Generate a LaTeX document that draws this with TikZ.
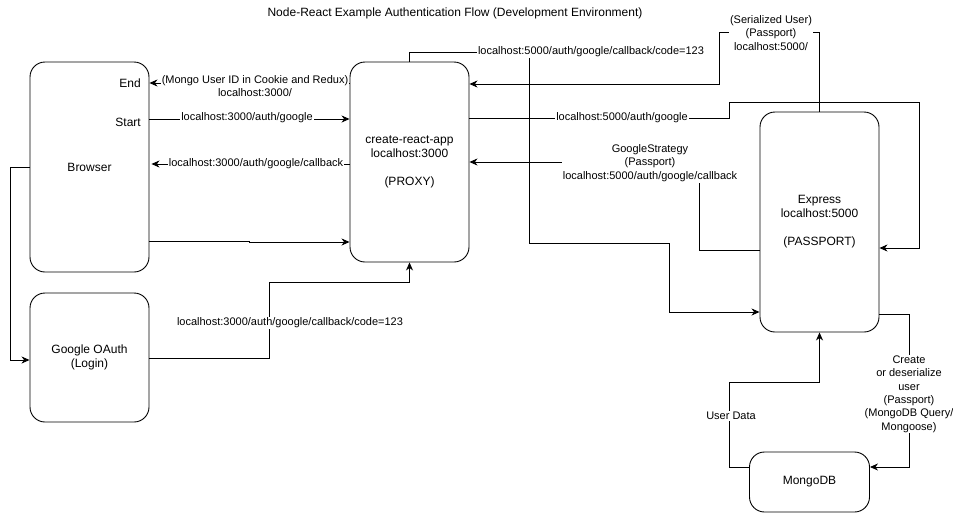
\documentclass[tikz,border=0pt]{standalone}
\usepackage{fontspec}
\setmainfont{Liberation Sans}
\usetikzlibrary{arrows.meta}
\begin{document}
\begin{tikzpicture}[x=1pt,y=-1pt,
  box/.style={draw, rounded corners=15pt, line width=0.9pt, align=center, font=\fontsize{12}{14}\selectfont, inner sep=0pt},
  conn/.style={draw, line width=0.9pt, -{Stealth[length=8pt,width=7pt,inset=2.5pt]}},
  lbl/.style={fill=white, align=center, font=\fontsize{11}{13.4}\selectfont, inner sep=1pt},
  plain/.style={align=center, font=\fontsize{12}{14}\selectfont, inner sep=1pt},
]
\useasboundingbox (0,0) rectangle (953,515);
\node[plain] (title) at (455,13) {Node-React Example Authentication Flow (Development Environment)};
% nodes
\node[box, minimum width=119pt, minimum height=210pt] (browser) at (89.5,167) {Browser};
\node[plain, anchor=east] (endt) at (142,83) {End};
\node[plain, anchor=east] (startt) at (142,122) {Start};
\node[box, minimum width=119pt, minimum height=200pt] (cra) at (409.5,162) {create-react-app\\localhost:3000\\~\\(PROXY)};
\node[box, minimum width=119pt, minimum height=129pt] (goauth) at (89.5,357.5) {Google OAuth\\(Login)};
\node[box, minimum width=119pt, minimum height=220pt] (express) at (819.5,222) {Express\\localhost:5000\\~\\(PASSPORT)};
\node[box, minimum width=120pt, minimum height=60pt] (mongo) at (809.5,482) {MongoDB};
% connectors
\draw[conn] (cra.west |- 0,83) -- (browser.east |- 0,83);
\draw[conn] (browser.east |- 0,119) -- (cra.west |- 0,119);
\draw[conn] (cra.west |- 0,164) -- ([xshift=2pt]browser.east |- 0,164);
\draw[conn] (browser.east |- 0,241) -- (249,241) -- (249,242) -- (cra.west |- 0,242);
\draw[conn] (browser.west) -- (10,167) |- (goauth.west |- 0,360);
\draw[conn] (goauth.east |- 0,358) -| (269,282) -| (cra.south);
\draw[conn] (cra.north) |- (529,52) |- (669,243) |- (express.west |- 0,312);
\draw[conn] (express.north) |- (719,32) |- (cra.east |- 0,84);
\draw[conn] (cra.east |- 0,118) -- (729,118) |- (919,102) |- (express.east |- 0,248);
\draw[conn] (express.west |- 0,250) -| (699,162) -- (cra.east |- 0,162);
\draw[conn] (express.east |- 0,314) -| (909,467) -- (mongo.east |- 0,467);
\draw[conn] (mongo.west |- 0,467) -| (729,382) -| (express.south);
% labels
\node[lbl] (l1) at (255,86) {(Mongo User ID in Cookie and Redux)\\localhost:3000/};
\node[lbl] (l2) at (247,118) {localhost:3000/auth/google};
\node[lbl] (l3) at (256,164) {localhost:3000/auth/google/callback};
\node[lbl] (l6) at (290,323) {localhost:3000/auth/google/callback/code=123};
\node[lbl] (l7) at (591,52) {localhost:5000/auth/google/callback/code=123};
\node[lbl] (l8) at (771,33) {(Serialized User)\\(Passport)\\localhost:5000/};
\node[lbl] (l9) at (622,118) {localhost:5000/auth/google};
\node[lbl] (l10) at (650,163) {GoogleStrategy\\(Passport)\\localhost:5000/auth/google/callback};
\node[lbl] (l11) at (909,394) {Create\\or deserialize\\user\\(Passport)\\(MongoDB Query/\\Mongoose)};
\node[lbl] (l12) at (731,416) {User Data};
\end{tikzpicture}
\end{document}
